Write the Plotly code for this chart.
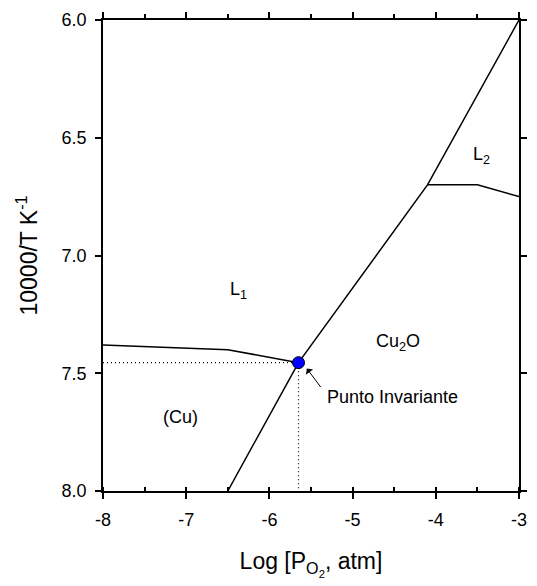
import plotly.graph_objects as go

# Phase boundaries of the Cu–O system (log pO2 vs 10000/T)
cu_l1_x = [-8.0, -6.5, -5.65]
cu_l1_y = [7.38, 7.40, 7.455]

ox_x = [-6.5, -5.65, -4.1, -3.0]
ox_y = [8.0, 7.455, 6.7, 6.0]

l1_l2_x = [-4.1, -3.5, -3.0]
l1_l2_y = [6.7, 6.7, 6.75]

# Invariant point and guide lines to the axes
inv_x = -5.65
inv_y = 7.455
guide_x = [-8.0, inv_x, inv_x]
guide_y = [inv_y, inv_y, 8.0]

# Region labels
label_text = ["L<sub>1</sub>", "L<sub>2</sub>", "Cu<sub>2</sub>O", "(Cu)"]
label_x = [-6.37, -3.45, -4.45, -7.07]
label_y = [7.15, 6.575, 7.37, 7.685]

x_ticks = [-8, -7, -6, -5, -4, -3]
y_ticks = [6.0, 6.5, 7.0, 7.5, 8.0]

FONT = "Arial, Liberation Sans, sans-serif"
LINE = dict(color="black", width=1.5)

fig = go.Figure()
fig.add_trace(go.Scatter(x=guide_x, y=guide_y, mode="lines",
                         line=dict(color="black", width=1.2, dash="1px,3px")))
fig.add_trace(go.Scatter(x=cu_l1_x, y=cu_l1_y, mode="lines", line=LINE))
fig.add_trace(go.Scatter(x=ox_x, y=ox_y, mode="lines", line=LINE))
fig.add_trace(go.Scatter(x=l1_l2_x, y=l1_l2_y, mode="lines", line=LINE))
fig.add_trace(go.Scatter(x=[inv_x], y=[inv_y], mode="markers",
                         marker=dict(size=12, color="#0000FF",
                                     line=dict(color="black", width=1))))

for t, x, y in zip(label_text, label_x, label_y):
    fig.add_annotation(x=x, y=y, text=t, showarrow=False,
                       font=dict(family=FONT, size=18, color="black"))

# Invariant point callout
fig.add_annotation(x=-5.33, y=7.60, text="Punto Invariante", showarrow=False,
                   xanchor="left", yanchor="middle",
                   font=dict(family=FONT, size=18, color="black"))
fig.add_annotation(x=-5.55, y=7.48, ax=-5.37, ay=7.565, axref="x", ayref="y",
                   text="", showarrow=True, arrowhead=1, arrowsize=1.5,
                   arrowwidth=1, arrowcolor="black")

fig.update_layout(
    width=537, height=586,
    margin=dict(l=103, r=10, t=15, b=95),
    paper_bgcolor="white", plot_bgcolor="white",
    showlegend=False,
    font=dict(family=FONT, size=18, color="black"),
    xaxis=dict(
        range=[-8, -3], tickvals=x_ticks, ticktext=[str(v) for v in x_ticks],
        showgrid=False, zeroline=False,
        showline=True, linecolor="black", linewidth=1.5,
        ticks="outside", ticklen=6, tickwidth=1.5, tickcolor="black",
        ticklabelstandoff=6,
        minor=dict(dtick=0.5, ticks="inside", ticklen=4, tickwidth=1.5,
                   tickcolor="black", showgrid=False),
        tickfont=dict(size=18),
        title=dict(text="Log [P<sub>O<sub>2</sub></sub>, atm]",
                   font=dict(size=23), standoff=24),
    ),
    xaxis2=dict(
        range=[-8, -3], overlaying="x", side="top", tickvals=x_ticks,
        showticklabels=False, showgrid=False, zeroline=False,
        showline=True, linecolor="black", linewidth=1.5,
        ticks="outside", ticklen=6, tickwidth=1.5, tickcolor="black",
        minor=dict(dtick=0.5, ticks="outside", ticklen=4, tickwidth=1.5,
                   tickcolor="black", showgrid=False),
    ),
    yaxis=dict(
        range=[8.0, 6.0], tickvals=y_ticks,
        ticktext=[f"{v:.1f}" for v in y_ticks],
        showgrid=False, zeroline=False,
        showline=True, linecolor="black", linewidth=1.5,
        ticks="outside", ticklen=6, tickwidth=1.5, tickcolor="black",
        ticklabelstandoff=5,
        tickfont=dict(size=18),
        title=dict(text="10000/T K<sup>-1</sup>", font=dict(size=23),
                   standoff=18),
    ),
    yaxis2=dict(
        range=[8.0, 6.0], overlaying="y", side="right", tickvals=y_ticks,
        showticklabels=False, showgrid=False, zeroline=False,
        showline=True, linecolor="black", linewidth=1.5,
        ticks="outside", ticklen=6, tickwidth=1.5, tickcolor="black",
    ),
)

# invisible trace to activate the mirrored top/right axes
fig.add_trace(go.Scatter(x=[-8], y=[8], xaxis="x2", yaxis="y2",
                         mode="markers", marker=dict(opacity=0),
                         hoverinfo="skip"))

fig.write_html("out.html")
